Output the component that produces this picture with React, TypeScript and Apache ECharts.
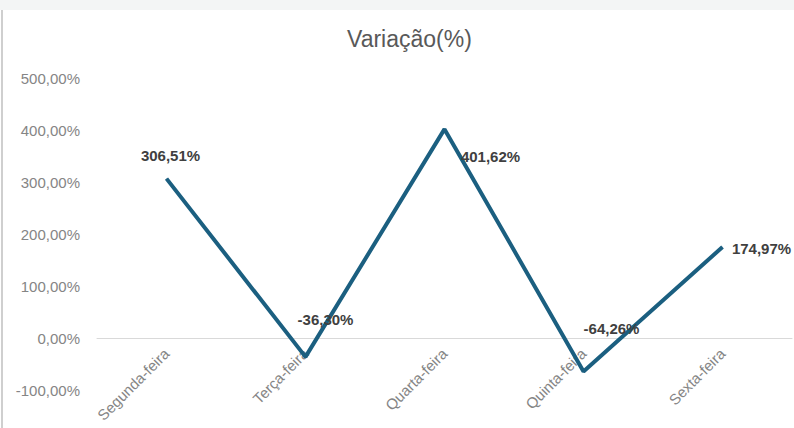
import React, { useEffect, useRef } from "react";
import * as echarts from "echarts";

const categories = ["Segunda-feira", "Terça-feira", "Quarta-feira", "Quinta-feira", "Sexta-feira"];
const variacao = [306.51, -36.3, 401.62, -64.26, 174.97];
const labelOffsets: [number, number][] = [[4, -23], [20, -37], [46, 27], [28, -43], [39, 1]];

const fmt = (v: number) => v.toFixed(2).replace(".", ",") + "%";

export default function App() {
  const ref = useRef<HTMLDivElement>(null);
  useEffect(() => {
    if (!ref.current) return;
    const chart = echarts.init(ref.current, null, { renderer: "svg" });
    chart.setOption({
      animation: false,
      backgroundColor: "#ffffff",
      title: {
        text: "Variação(%)",
        left: 342,
        top: 22,
        textStyle: { fontFamily: "Liberation Sans", fontSize: 23, fontWeight: "normal", color: "#595959" },
      },
      graphic: [
        { type: "rect", shape: { x: 0, y: 0, width: 794, height: 10 }, style: { fill: "#f3f5f5" } },
        { type: "line", shape: { x1: 2, y1: 10, x2: 2, y2: 428 }, style: { stroke: "#cfcfcf", lineWidth: 2 } },
      ],
      grid: { left: 97, right: 2, top: 78, bottom: 38, containLabel: false, outerBoundsMode: "none" },
      xAxis: {
        type: "category",
        data: categories,
        offset: -52,
        axisLine: { onZero: false, lineStyle: { color: "#d9d9d9", width: 1 } },
        axisTick: { show: false },
        axisLabel: {
          rotate: 45,
          margin: 13,
          color: "#858585",
          fontFamily: "Liberation Sans",
          fontSize: 15,
        },
      },
      yAxis: {
        type: "value",
        min: -100,
        max: 500,
        interval: 100,
        splitLine: { show: false },
        axisLine: { show: false },
        axisTick: { show: false },
        axisLabel: {
          formatter: (v: number) => fmt(v),
          color: "#858585",
          fontFamily: "Liberation Sans",
          fontSize: 15,
          margin: 17,
        },
      },
      series: [
        {
          type: "line",
          data: variacao.map((v, i) => ({
            value: v,
            label: { offset: labelOffsets[i] },
          })),
          symbol: "circle",
          symbolSize: 0.5,
          itemStyle: { color: "#1b5f80" },
          lineStyle: { color: "#1b5f80", width: 4 },
          label: {
            show: true,
            position: "inside",
            formatter: (p: any) => fmt(p.value),
            color: "#404040",
            fontFamily: "Liberation Sans",
            fontWeight: "bold",
            fontSize: 15,
          },
        },
      ],
    });
    return () => chart.dispose();
  }, []);
  return (
    <div
      ref={ref}
      style={{ position: "fixed", left: 0, top: 0, width: 794, height: 428 }}
    />
  );
}
